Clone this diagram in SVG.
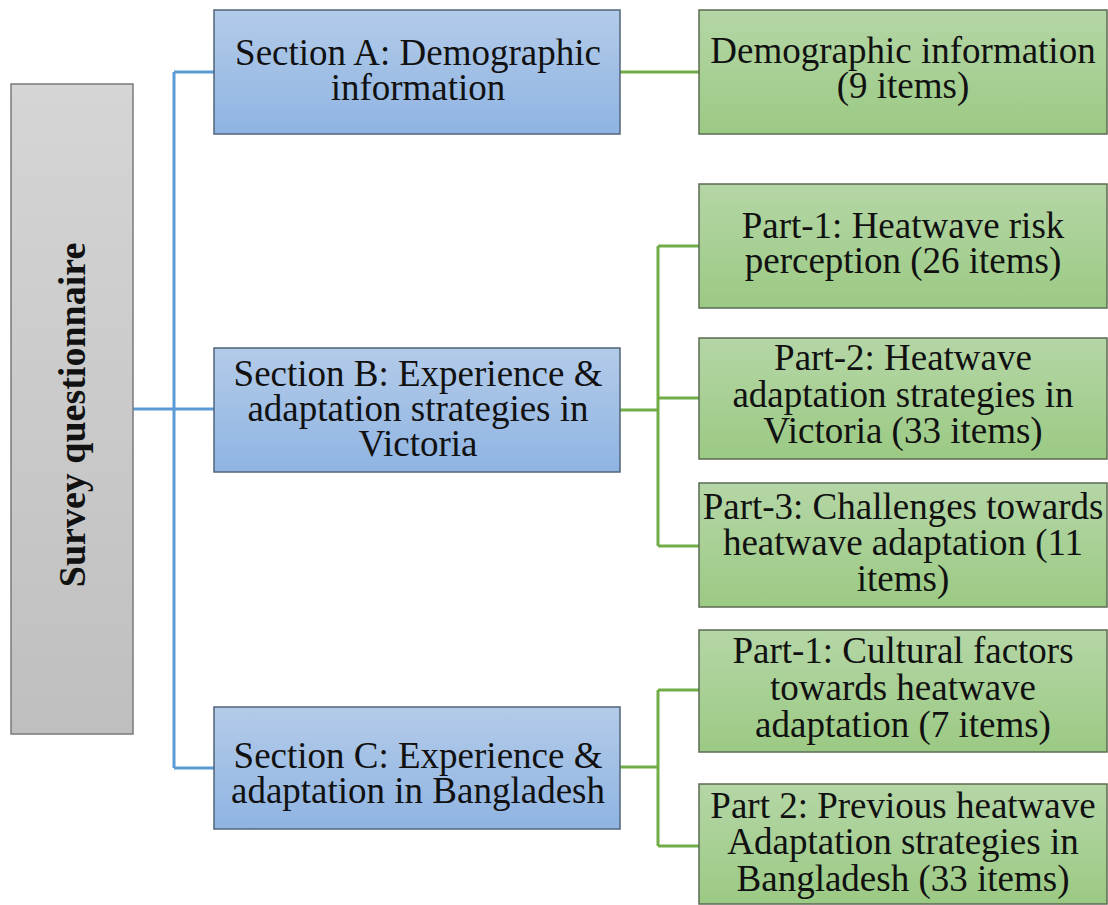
<svg xmlns="http://www.w3.org/2000/svg" width="1108" height="905" viewBox="0 0 1108 905">
  <defs>
    <linearGradient id="gGrey" x1="0" y1="0" x2="0" y2="1">
      <stop offset="0" stop-color="#d5d5d5"/>
      <stop offset="1" stop-color="#bfbfbf"/>
    </linearGradient>
    <linearGradient id="gBlue" x1="0" y1="0" x2="0" y2="1">
      <stop offset="0" stop-color="#b3cbe9"/>
      <stop offset="1" stop-color="#8fb4e2"/>
    </linearGradient>
    <linearGradient id="gGreen" x1="0" y1="0" x2="0" y2="1">
      <stop offset="0" stop-color="#b5d6a6"/>
      <stop offset="1" stop-color="#9bca84"/>
    </linearGradient>
  </defs>
  <style>
    .t { font-family: "Liberation Serif", "Times New Roman", serif; font-size: 37px; fill: #111; text-anchor: middle; }
    .root { fill: url(#gGrey); stroke: #7a7a7a; stroke-width: 1.5; }
    .sec { fill: url(#gBlue); stroke: #506478; stroke-width: 1.5; }
    .part { fill: url(#gGreen); stroke: #5b6b52; stroke-width: 1.5; }
    .lnB { fill: none; stroke: #5b9bd5; stroke-width: 3; }
    .lnG { fill: none; stroke: #70ad47; stroke-width: 3; }
    .bold { font-weight: bold; font-size: 38px; }
  </style>

  <!-- connectors -->
  <g id="connectors">
    <path class="lnB" d="M133 409 H214 M174 72 V768 M174 72 H214 M174 768 H214"/>
    <path class="lnG" d="M620 72 H699"/>
    <path class="lnG" d="M620 410 H658 M658 246 V546 M658 246 H699 M658 398 H699 M658 546 H699"/>
    <path class="lnG" d="M620 767 H658 M658 690 V846 M658 690 H699 M658 846 H699"/>
  </g>

  <g id="survey">
    <rect class="root" x="11" y="84" width="122" height="650"/>
    <text class="t bold" transform="translate(85 415) rotate(-90)">Survey questionnaire</text>
  </g>

  <g id="sectionA" class="t">
    <rect class="sec" x="214" y="10" width="406" height="124"/>
    <text x="418" y="65">Section A: Demographic</text>
    <text x="418" y="100">information</text>
  </g>

  <g id="sectionB" class="t">
    <rect class="sec" x="214" y="348" width="406" height="124"/>
    <text x="418" y="386">Section B: Experience &amp;</text>
    <text x="418" y="421">adaptation strategies in</text>
    <text x="418" y="456">Victoria</text>
  </g>

  <g id="sectionC" class="t">
    <rect class="sec" x="214" y="707" width="406" height="122"/>
    <text x="418" y="768">Section C: Experience &amp;</text>
    <text x="418" y="803">adaptation in Bangladesh</text>
  </g>

  <g id="demoInfo" class="t">
    <rect class="part" x="699" y="10" width="408" height="124"/>
    <text x="903" y="63">Demographic information</text>
    <text x="903" y="98">(9 items)</text>
  </g>

  <g id="b-part1" class="t">
    <rect class="part" x="699" y="184" width="408" height="124"/>
    <text x="903" y="238">Part-1: Heatwave risk</text>
    <text x="903" y="273">perception (26 items)</text>
  </g>

  <g id="b-part2" class="t">
    <rect class="part" x="699" y="338" width="408" height="121"/>
    <text x="903" y="370">Part-2: Heatwave</text>
    <text x="903" y="407">adaptation strategies in</text>
    <text x="903" y="443">Victoria (33 items)</text>
  </g>

  <g id="b-part3" class="t">
    <rect class="part" x="699" y="483" width="408" height="124"/>
    <text x="903" y="519">Part-3: Challenges towards</text>
    <text x="903" y="555">heatwave adaptation (11</text>
    <text x="903" y="591">items)</text>
  </g>

  <g id="c-part1" class="t">
    <rect class="part" x="699" y="630" width="408" height="122"/>
    <text x="903" y="663">Part-1: Cultural factors</text>
    <text x="903" y="700">towards heatwave</text>
    <text x="903" y="737">adaptation (7 items)</text>
  </g>

  <g id="c-part2" class="t">
    <rect class="part" x="699" y="784" width="408" height="120"/>
    <text x="903" y="818">Part 2: Previous heatwave</text>
    <text x="903" y="854">Adaptation strategies in</text>
    <text x="903" y="891">Bangladesh (33 items)</text>
  </g>
</svg>
